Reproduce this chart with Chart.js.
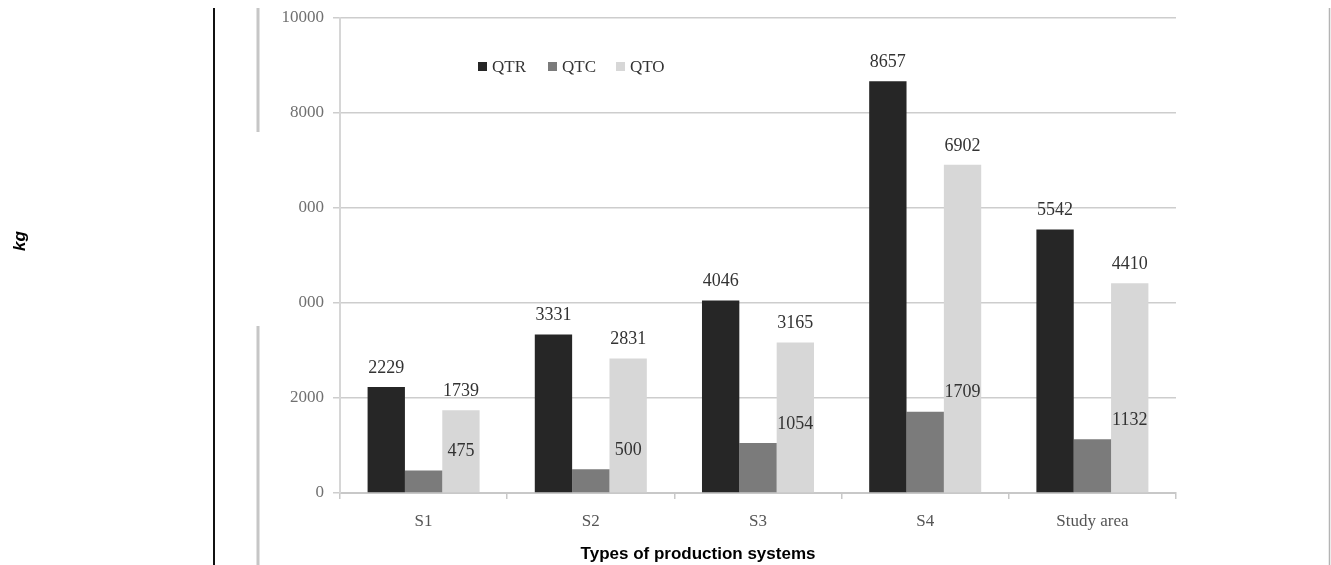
<!DOCTYPE html>
<html><head><meta charset="utf-8">
<script src="https://cdn.jsdelivr.net/npm/chart.js@4.4.1/dist/chart.umd.min.js"></script>
<style>html,body{margin:0;padding:0;background:#fff;overflow:hidden}#wrap{position:relative;width:1331px;height:565px}canvas{display:block}</style>
</head><body><div id="wrap"><canvas id="c" width="1331" height="565"></canvas></div>
<script>
// ---- data ----
const categories = ["S1", "S2", "S3", "S4", "Study area"];
const seriesNames = ["QTR", "QTC", "QTO"];
const qtr = [2229, 3331, 4046, 8657, 5542];
const qtc = [475, 500, 1054, 1709, 1132];
const qto = [1739, 2831, 3165, 6902, 4410];
const yTickLabels = ["0", "2000", "000", "000", "8000", "10000"];
const xTitle = "Types of production systems";
const yTitle = "kg";

// ---- styles ----
const colors = ["#262626", "#7b7b7b", "#d7d7d7"];
const serif = "'Liberation Serif', 'Times New Roman', serif";
const sans = "'Liberation Sans', Arial, sans-serif";
// which dataset's bar each dataset's value label is centred over
const labelAnchor = [0, 2, 2];

const decorPlugin = {
  id: 'decor',
  beforeDraw(chart) {
    const ctx = chart.ctx;
    ctx.save();
    ctx.fillStyle = '#fff';
    ctx.fillRect(0, 0, chart.width, chart.height);
    ctx.strokeStyle = '#111'; ctx.lineWidth = 2;
    ctx.beginPath(); ctx.moveTo(214, 8); ctx.lineTo(214, 565); ctx.stroke();
    ctx.strokeStyle = '#c6c6c6'; ctx.lineWidth = 3;
    ctx.beginPath(); ctx.moveTo(258, 8); ctx.lineTo(258, 132);
    ctx.moveTo(258, 326); ctx.lineTo(258, 565); ctx.stroke();
    ctx.strokeStyle = '#b4b4b4'; ctx.lineWidth = 1.5;
    ctx.beginPath(); ctx.moveTo(1329.5, 8); ctx.lineTo(1329.5, 565); ctx.stroke();
    ctx.restore();
  },
  afterDraw(chart) {
    const ctx = chart.ctx;
    ctx.save();
    // value labels
    ctx.font = '18px ' + serif;
    ctx.fillStyle = '#333';
    ctx.textAlign = 'center';
    ctx.textBaseline = 'middle';
    chart.data.datasets.forEach((ds, di) => {
      const meta = chart.getDatasetMeta(di);
      const anchorMeta = chart.getDatasetMeta(labelAnchor[di]);
      meta.data.forEach((bar, i) => {
        const x = anchorMeta.data[i].x;
        ctx.fillText(String(ds.data[i]), x, bar.y - 19);
      });
    });
    // legend
    ctx.font = '17px ' + serif;
    ctx.textAlign = 'left';
    const legX = [478, 548, 616];
    chart.data.datasets.forEach((ds, di) => {
      ctx.fillStyle = ds.backgroundColor;
      ctx.fillRect(legX[di], 62, 9, 9);
      ctx.fillStyle = '#333';
      ctx.fillText(ds.label, legX[di] + 14, 68);
    });
    // axis titles
    ctx.fillStyle = '#000';
    ctx.font = 'bold 17px ' + sans;
    ctx.textAlign = 'center';
    ctx.textBaseline = 'middle';
    ctx.fillText(xTitle, 698, 554);
    ctx.translate(20, 241);
    ctx.rotate(-Math.PI / 2);
    ctx.font = 'italic bold 17px ' + sans;
    ctx.fillText(yTitle, 0, 0);
    ctx.restore();
  }
};

const seriesData = [qtr, qtc, qto];
new Chart(document.getElementById('c'), {
  type: 'bar',
  data: {
    labels: categories,
    datasets: seriesNames.map((n, i) => ({
      label: n, data: seriesData[i], backgroundColor: colors[i], borderWidth: 0,
      categoryPercentage: 0.67, barPercentage: 1.0
    }))
  },
  options: {
    responsive: false,
    animation: false,
    devicePixelRatio: 1,
    layout: { padding: { left: 0, right: 155, top: 16, bottom: 0 } },
    plugins: { legend: { display: false }, tooltip: { enabled: false } },
    scales: {
      x: {
        grid: { drawOnChartArea: false, drawTicks: true, tickLength: 6, color: '#c8c8c8', lineWidth: 1.5 },
        border: { color: '#c8c8c8', width: 2 },
        ticks: { font: { family: serif, size: 17 }, color: '#555', padding: 12 },
        afterFit: s => { s.height = 72; }
      },
      y: {
        min: 0, max: 10000,
        ticks: { stepSize: 2000, callback: (v, i) => yTickLabels[i], font: { family: serif, size: 17, lineHeight: 1 }, color: '#707070', padding: 9 },
        grid: { color: '#cdcdcd', lineWidth: 1.5, tickLength: 7 },
        border: { color: '#d6d6d6', width: 2 },
        afterFit: s => { s.width = 340; }
      }
    }
  },
  plugins: [decorPlugin]
});
</script></body></html>
